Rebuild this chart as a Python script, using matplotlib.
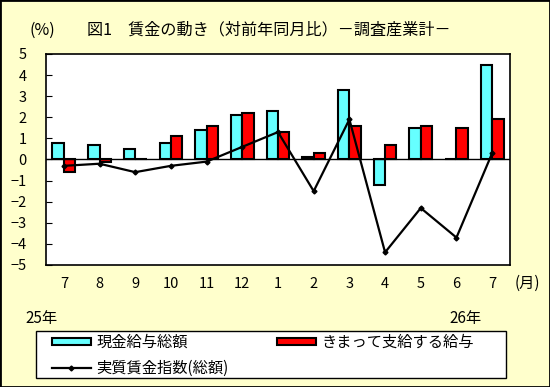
import matplotlib.pyplot as plt
import matplotlib as mpl
import numpy as np

mpl.rcParams['font.family'] = ['Noto Sans CJK JP', 'DejaVu Sans']
mpl.rcParams['font.size'] = 9

months = ['7', '8', '9', '10', '11', '12', '1', '2', '3', '4', '5', '6', '7']
total_pay = [0.8, 0.7, 0.5, 0.8, 1.4, 2.1, 2.3, 0.1, 3.3, -1.2, 1.5, 0.0, 4.5]
regular_pay = [-0.6, -0.1, 0.0, 1.1, 1.6, 2.2, 1.3, 0.3, 1.6, 0.7, 1.6, 1.5, 1.9]
real_index = [-0.3, -0.2, -0.6, -0.3, -0.1, 0.6, 1.3, -1.5, 1.9, -4.4, -2.3, -3.7, 0.3]

bg = '#FFFFCC'
fig = plt.figure(figsize=(5.5, 3.87), dpi=100, facecolor=bg)
ax = fig.add_axes([46/550, 1-265/387, 464/550, 211/387])

x = np.arange(len(months))
w = 0.32
b1 = ax.bar(x - w/2, total_pay, w, color='#66FFFF', edgecolor='black', linewidth=1.5, zorder=2)
b2 = ax.bar(x + w/2, regular_pay, w, color='#FF0000', edgecolor='black', linewidth=1.5, zorder=2)
ax.axhline(0, color='black', lw=1, zorder=3)
l1, = ax.plot(x, real_index, color='black', lw=1.6, marker='D', markersize=2.5, zorder=4)

ax.set_xlim(-0.5, len(months) - 0.5)
ax.set_ylim(-5, 5)
ax.set_yticks(range(-5, 6))
ax.set_yticklabels([str(v).replace('-', '−') for v in range(-5, 6)], fontsize=10.5)
ax.set_xticks(x)
ax.set_xticklabels(months, fontsize=10.5)
ax.tick_params(axis='y', direction='in', length=4, pad=14)
ax.tick_params(axis='x', length=0, pad=9)
for s in ax.spines.values():
    s.set_linewidth(1.2)

fig.text(527/550, 1-283/387, '(月)', fontsize=11, ha='center', va='center')
fig.text(42/550, 1-318/387, '25年', fontsize=11, ha='center', va='center')
fig.text(466/550, 1-318/387, '26年', fontsize=11, ha='center', va='center')
fig.text(42/550, 1-30/387, '(%)', fontsize=11.5, ha='center', va='center')
fig.text(87/550, 1-30/387, '図1　賃金の動き（対前年同月比）－調査産業計－', fontsize=11.6, ha='left', va='center')

# legend box drawn by hand, legend itself frameless
fig.patches.append(mpl.patches.Rectangle((36/550, 1-378/387), 470/550, 47/387,
                                         transform=fig.transFigure, facecolor='white',
                                         edgecolor='black', linewidth=1))
leg = fig.legend([b1, l1, b2], ['現金給与総額', '実質賃金指数(総額)', 'きまって支給する給与'],
                 ncol=2, loc='upper left', bbox_to_anchor=(52/550, 1-334/387),
                 frameon=False, fontsize=11, handlelength=2.55, handleheight=0.35,
                 labelspacing=0.55, borderpad=0, borderaxespad=0, handletextpad=0.35,
                 columnspacing=3.2, numpoints=1)

fig.patches.append(mpl.patches.Rectangle((0, 0), 1, 1, transform=fig.transFigure,
                                         fill=False, edgecolor='black', linewidth=2))

plt.savefig('out.png', dpi=100, facecolor=bg)
